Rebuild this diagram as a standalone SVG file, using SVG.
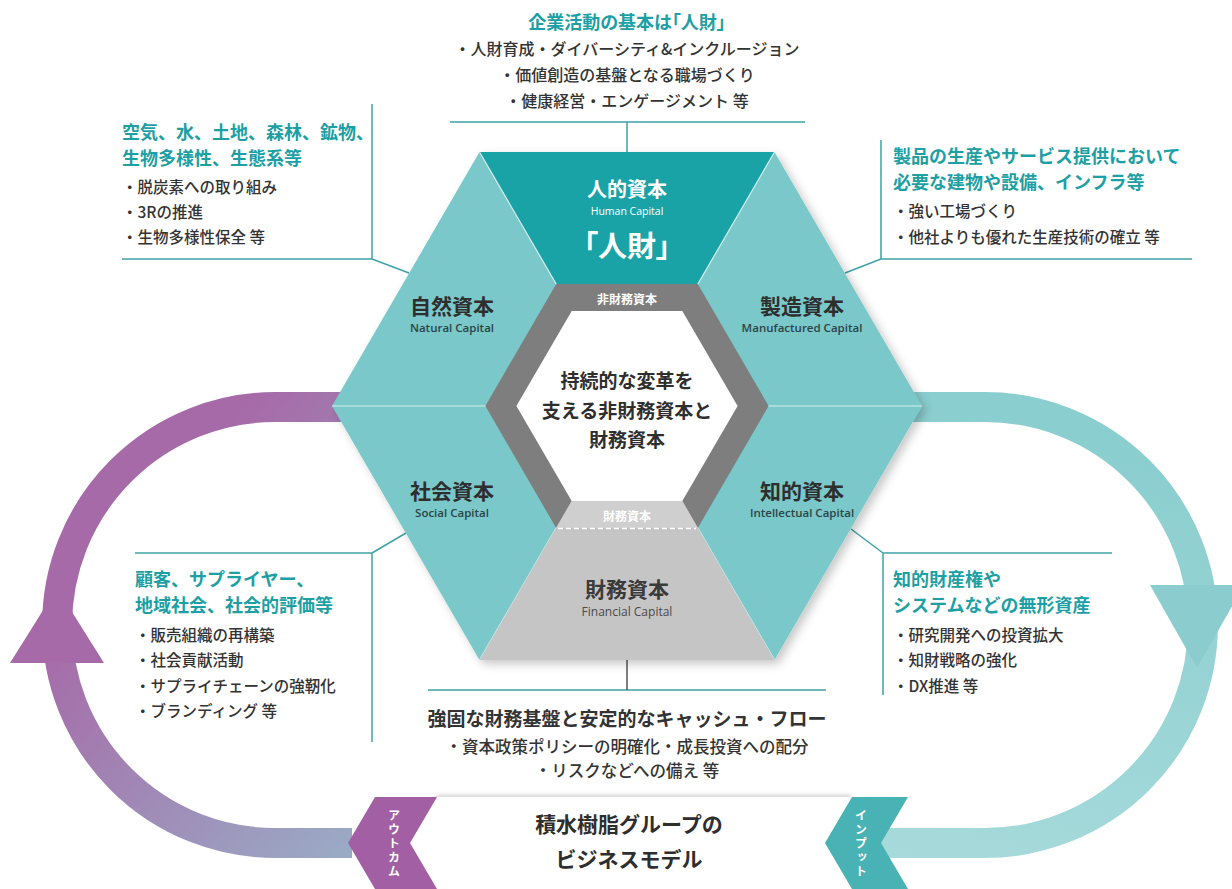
<svg xmlns="http://www.w3.org/2000/svg" width="1232" height="889" viewBox="0 0 1232 889">
<defs>
<style>
text{font-family:'Noto Sans CJK JP','Noto Sans',sans-serif;text-anchor:middle;dominant-baseline:central}
.h{font-size:18px;font-weight:700;fill:#1d9fa4}
.b{font-size:15.5px;font-weight:500;fill:#333}
.bt{font-size:16px;font-weight:500;fill:#333}
.l{text-anchor:start}
.cap{font-size:21px;font-weight:700;fill:#2e2e2e}
.en{font-family:'Open Sans','Noto Sans',sans-serif;font-size:11.5px;font-weight:600;fill:#2c4446}
.ctr{font-size:19px;font-weight:700;fill:#2e2e2e}
.lead{fill:none;stroke:#3fa2a5;stroke-width:1.5}
.vt{writing-mode:vertical-rl;text-orientation:upright;font-size:12px;font-weight:700;fill:#fff;letter-spacing:2px}
.palt{font-feature-settings:"palt"}
</style>
<linearGradient id="gp" gradientUnits="userSpaceOnUse" x1="60" y1="620" x2="340" y2="860">
<stop offset="0" stop-color="#a66aa8"/><stop offset="1" stop-color="#9aaac5"/>
</linearGradient>
<linearGradient id="gt" gradientUnits="userSpaceOnUse" x1="1000" y1="420" x2="900" y2="860">
<stop offset="0" stop-color="#8bcecf"/><stop offset="1" stop-color="#a7dadb"/>
</linearGradient>
<filter id="sh" x="-10%" y="-10%" width="125%" height="125%">
<feDropShadow dx="4" dy="4" stdDeviation="5" flood-color="#000" flood-opacity="0.22"/>
</filter>
<filter id="sh2" x="-5%" y="-20%" width="110%" height="140%">
<feDropShadow dx="0" dy="-2" stdDeviation="2" flood-color="#000" flood-opacity="0.18"/>
</filter>
</defs>
<rect width="1232" height="889" fill="#fff"/>

<g id="loops">
<path d="M352 843 H275 A218 218 0 0 1 275 407 H360" fill="none" stroke="url(#gp)" stroke-width="30"/>
<polygon points="10,663 104,663 57,588" fill="#a66aa8"/>
<path d="M900 407 H985 A218 218 0 0 1 985 843 H880" fill="none" stroke="url(#gt)" stroke-width="30"/>
<polygon points="1150,585 1244,585 1197,668" fill="#8bcdce"/>
</g>

<g id="connectors">
<path class="lead" d="M450 122 H805 M627 122 V152"/>
<path class="lead" d="M372 104 V259 H122 M372 259 L409 273"/>
<path class="lead" d="M881 140 V259 H1192 M881 259 L845 273"/>
<path class="lead" d="M135 553 H372 V742 M372 553 L406 533"/>
<path class="lead" d="M1112 553 H883 V695 M883 553 L851 529"/>
<path class="lead" d="M428 690 H826"/>
<path d="M627 660 V690" fill="none" stroke="#555" stroke-width="1.5"/>
</g>

<g id="hexagon">
<g filter="url(#sh)">
<polygon points="479.5,152 774.5,152 922,406 774.5,660 479.5,660 332,406" fill="#7ac8c9"/>
</g>
<polygon points="479.5,152 774.5,152 627,406" fill="#19a3a6"/>
<polygon points="479.5,660 774.5,660 627,406" fill="#c5c5c5"/>
<path d="M332 406 H922 M479.5 152 L774.5 660 M774.5 152 L479.5 660" stroke="#d6eeee" stroke-width="1.2" fill="none"/>
<polygon points="556.2,284 697.8,284 768.6,406 697.8,528 556.2,528 485.4,406" fill="#7e7e7e"/>
<polygon points="571.7,501 682.3,501 774.5,660 479.5,660" fill="#c5c5c5"/>
<polygon points="571.7,501 682.3,501 697.8,528 556.2,528" fill="#cfcfcf"/>
<line x1="558" y1="528.5" x2="696" y2="528.5" stroke="#fff" stroke-width="1.3" stroke-dasharray="5 3"/>
<polygon points="571.7,311 682.3,311 737.6,406 682.3,501 571.7,501 516.4,406" fill="#fff"/>
</g>

<g id="node-human">
<text x="627" y="188" style="font-size:20px;font-weight:700;fill:#fff">人的資本</text>
<text x="627" y="211" class="en" style="fill:#fff;font-size:10.5px;font-weight:400">Human Capital</text>
<text x="627" y="244" class="palt" style="font-size:29px;font-weight:700;fill:#fff">「人財」</text>
</g>
<g id="node-nonfinancial">
<text x="627" y="298" style="font-size:12px;font-weight:700;fill:#fff">非財務資本</text>
</g>
<g id="node-natural">
<text x="452" y="305" class="cap">自然資本</text>
<text x="452" y="327" class="en">Natural Capital</text>
</g>
<g id="node-manufactured">
<text x="802" y="305" class="cap">製造資本</text>
<text x="802" y="327" class="en">Manufactured Capital</text>
</g>
<g id="node-center">
<text x="627" y="379" class="ctr">持続的な変革を</text>
<text x="627" y="409" class="ctr">支える非財務資本と</text>
<text x="627" y="438" class="ctr">財務資本</text>
</g>
<g id="node-social">
<text x="452" y="490" class="cap">社会資本</text>
<text x="452" y="512" class="en">Social Capital</text>
</g>
<g id="node-intellectual">
<text x="802" y="490" class="cap">知的資本</text>
<text x="802" y="512" class="en">Intellectual Capital</text>
</g>
<g id="node-financial-label">
<text x="627" y="515" style="font-size:12px;font-weight:700;fill:#fff">財務資本</text>
</g>
<g id="node-financial">
<text x="627" y="588" class="cap" style="fill:#3a3a3a">財務資本</text>
<text x="627" y="611" class="en" style="fill:#4a4a4a;font-size:12px;font-weight:400">Financial Capital</text>
</g>

<g id="text-top">
<text x="627" y="21" class="h palt">企業活動の基本は「人財」</text>
<text x="627" y="48" class="bt">・人財育成・ダイバーシティ&amp;インクルージョン</text>
<text x="627" y="74" class="bt">・価値創造の基盤となる職場づくり</text>
<text x="627" y="100" class="bt">・健康経営・エンゲージメント 等</text>
</g>
<g id="text-natural">
<text x="122" y="131" class="h l">空気、水、土地、森林、鉱物、</text>
<text x="122" y="157" class="h l">生物多様性、生態系等</text>
<text x="122" y="186" class="b l">・脱炭素への取り組み</text>
<text x="122" y="211" class="b l">・3Rの推進</text>
<text x="122" y="236" class="b l">・生物多様性保全 等</text>
</g>
<g id="text-manufactured">
<text x="893" y="155" class="h l">製品の生産やサービス提供において</text>
<text x="893" y="181" class="h l">必要な建物や設備、インフラ等</text>
<text x="893" y="210" class="b l">・強い工場づくり</text>
<text x="893" y="236" class="b l">・他社よりも優れた生産技術の確立 等</text>
</g>
<g id="text-social">
<text x="135" y="578" class="h l">顧客、サプライヤー、</text>
<text x="135" y="604" class="h l">地域社会、社会的評価等</text>
<text x="135" y="634" class="b l">・販売組織の再構築</text>
<text x="135" y="659" class="b l">・社会貢献活動</text>
<text x="135" y="685" class="b l">・サプライチェーンの強靭化</text>
<text x="135" y="710" class="b l">・ブランディング 等</text>
</g>
<g id="text-intellectual">
<text x="893" y="578" class="h l">知的財産権や</text>
<text x="893" y="604" class="h l">システムなどの無形資産</text>
<text x="893" y="634" class="b l">・研究開発への投資拡大</text>
<text x="893" y="659" class="b l">・知財戦略の強化</text>
<text x="893" y="685" class="b l">・DX推進 等</text>
</g>
<g id="text-financial">
<text x="627" y="717" style="font-size:19px;font-weight:700;fill:#333">強固な財務基盤と安定的なキャッシュ・フロー</text>
<text x="627" y="746" class="bt" style="font-size:16.5px">・資本政策ポリシーの明確化・成長投資への配分</text>
<text x="627" y="770" class="bt" style="font-size:16.5px">・リスクなどへの備え 等</text>
</g>

<g id="node-business-model">
<polygon points="437,797 852,797 825,843 852,889 437,889 410,843" fill="#fff" filter="url(#sh2)"/>
<text x="629" y="823" style="font-size:21px;font-weight:700;fill:#2e2e2e">積水樹脂グループの</text>
<text x="629" y="858" style="font-size:21px;font-weight:700;fill:#2e2e2e">ビジネスモデル</text>
</g>
<g id="node-outcome">
<polygon points="375,797 437,797 410,843 437,889 375,889 348,843" fill="#a25fa3"/>
<text x="394" y="844" class="vt">アウトカム</text>
</g>
<g id="node-input">
<polygon points="852,797 908,797 881,843 908,889 852,889 825,843" fill="#48b2b4"/>
<text x="861" y="844" class="vt">インプット</text>
</g>
</svg>
